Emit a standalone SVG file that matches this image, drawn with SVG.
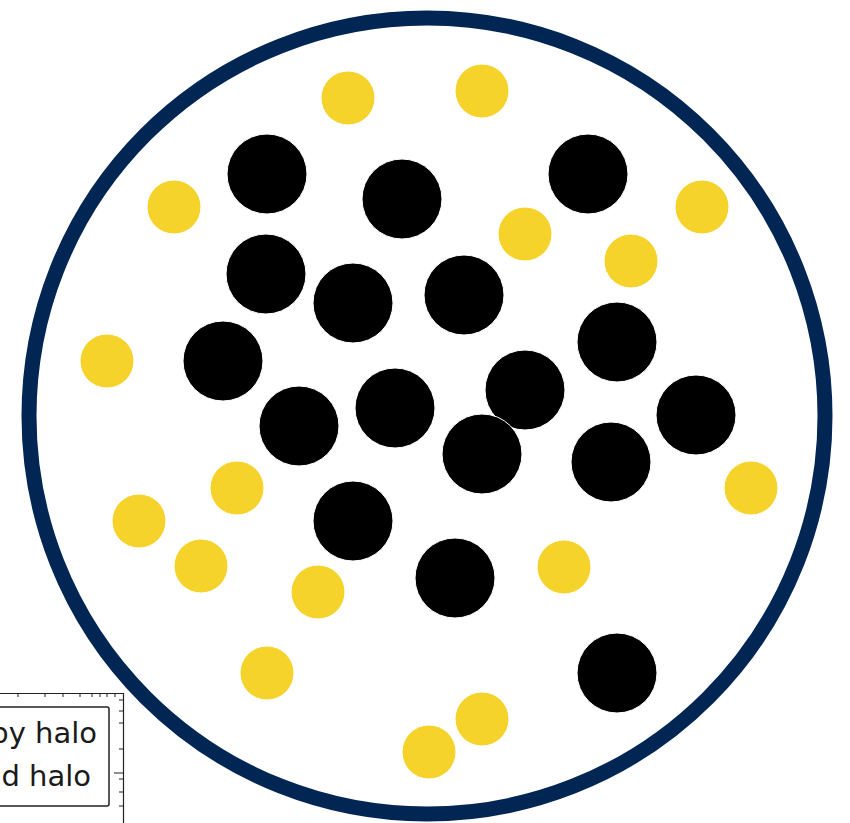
<svg xmlns="http://www.w3.org/2000/svg" width="850" height="823" viewBox="0 0 850 823">
<style>
.b{fill:#000;stroke:#fff;stroke-width:1}
.y{fill:#f6d32b;stroke:#fff;stroke-width:1}
.t{font-family:"DejaVu Sans",sans-serif;font-size:29px;fill:#1a1a1a;text-anchor:end}
.ax{fill:none;stroke:#222;stroke-width:1.2}
.tk{stroke:#222;stroke-width:1}
</style>
<rect width="850" height="823" fill="#fff"/>
<g id="legend">
<path class="ax" d="M0,693.5 H123.5 V823"/>
<g class="tk">
<path d="M18,693 v4 M45,693 v4 M63,693 v4 M80,693 v4 M92,693 v4 M100,693 v4 M107,693 v4 M115,693 v4"/>
<path d="M123,700 h-4 M123,711 h-4 M123,723 h-4 M123,749 h-4 M123,773 h-9 M123,779 h-4 M123,792 h-4 M123,806 h-4"/>
</g>
<rect x="-10" y="707" width="119" height="99" rx="2" fill="#fff" stroke="#222" stroke-width="1.5"/>
<text class="t" x="97" y="743">py halo</text>
<text class="t" x="91" y="786">d halo</text>
</g>
<g id="boundary">
<circle cx="427" cy="416" r="398" fill="none" stroke="#022654" stroke-width="15"/>
</g>
<g id="yellow">
<circle class="y" cx="348" cy="98" r="27"/>
<circle class="y" cx="482" cy="91" r="27"/>
<circle class="y" cx="174" cy="207" r="27"/>
<circle class="y" cx="525" cy="234" r="27"/>
<circle class="y" cx="631" cy="261" r="27"/>
<circle class="y" cx="702" cy="207" r="27"/>
<circle class="y" cx="107" cy="361" r="27"/>
<circle class="y" cx="237" cy="488" r="27"/>
<circle class="y" cx="139" cy="521" r="27"/>
<circle class="y" cx="201" cy="566" r="27"/>
<circle class="y" cx="318" cy="592" r="27"/>
<circle class="y" cx="564" cy="567" r="27"/>
<circle class="y" cx="751" cy="488" r="27"/>
<circle class="y" cx="267" cy="673" r="27"/>
<circle class="y" cx="482" cy="719" r="27"/>
<circle class="y" cx="429" cy="752" r="27"/>
</g>
<g id="black">
<circle class="b" cx="267" cy="174" r="40"/>
<circle class="b" cx="402" cy="199" r="40"/>
<circle class="b" cx="588" cy="174" r="40"/>
<circle class="b" cx="266" cy="274" r="40"/>
<circle class="b" cx="353" cy="303" r="40"/>
<circle class="b" cx="464" cy="295" r="40"/>
<circle class="b" cx="617" cy="342" r="40"/>
<circle class="b" cx="223" cy="361" r="40"/>
<circle class="b" cx="525" cy="390" r="40"/>
<circle class="b" cx="395" cy="408" r="40"/>
<circle class="b" cx="299" cy="426" r="40"/>
<circle class="b" cx="696" cy="415" r="40"/>
<circle class="b" cx="482" cy="454" r="40"/>
<circle class="b" cx="611" cy="462" r="40"/>
<circle class="b" cx="353" cy="521" r="40"/>
<circle class="b" cx="455" cy="578" r="40"/>
<circle class="b" cx="617" cy="673" r="40"/>
</g>
</svg>
